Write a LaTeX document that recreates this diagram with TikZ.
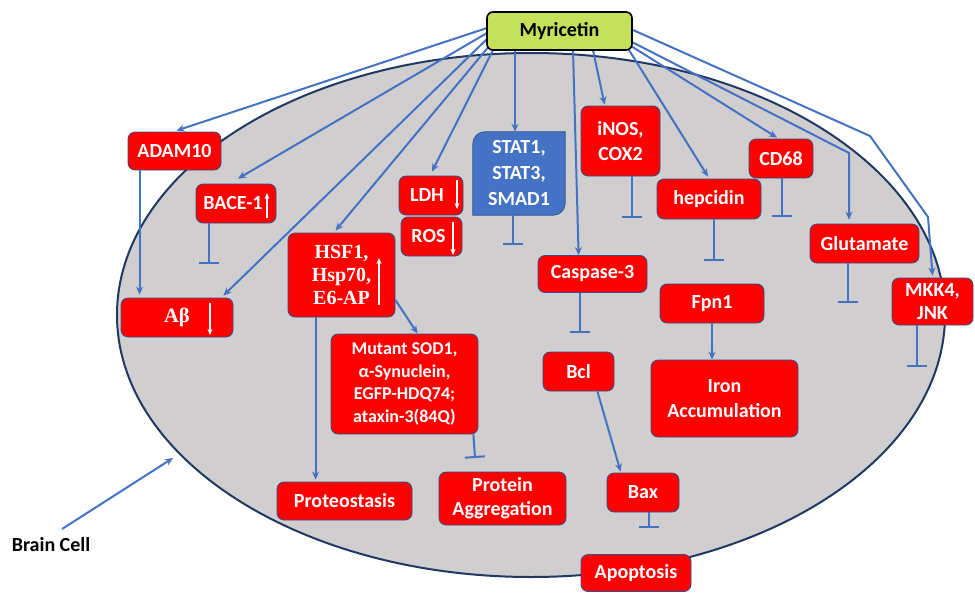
\documentclass[tikz,border=0pt]{standalone}
\usepackage{fontspec}
\setmainfont{Carlito}
\newfontfamily\serifb{Liberation Serif}
\usetikzlibrary{arrows.meta,calc}
\definecolor{lblue}{RGB}{68,114,196}
\definecolor{bord}{RGB}{47,82,143}
\definecolor{navy}{RGB}{32,56,100}
\definecolor{cellgray}{RGB}{208,206,206}
\definecolor{lime}{RGB}{197,224,90}
\definecolor{boxred}{RGB}{255,0,0}
\pgfdeclarelayer{back}
\pgfdeclarelayer{bg}
\pgfsetlayers{back,bg,main}
\begin{document}
\begin{tikzpicture}[x=1pt,y=-1pt,
  rbox/.style={draw=bord, line width=0.8pt, fill=boxred, rounded corners=7pt, text=white,
    font=\fontsize{20}{23}\selectfont\bfseries, align=center, inner sep=0pt},
  conn/.style={draw=lblue, line width=2pt, -{Stealth[length=8pt,width=7pt]}},
  inh/.style={draw=lblue, line width=2pt, -{Bar[width=20pt]}},
  warr/.style={draw=white, line width=1.6pt, -{Stealth[length=6pt,width=5pt]}},
]
\useasboundingbox (0,0) rectangle (975,592);

% brain cell
\begin{pgfonlayer}{back}
\filldraw[fill=cellgray, draw=navy, line width=2pt] (531,315) ellipse [x radius=414pt, y radius=262pt];
\end{pgfonlayer}

% nodes
\node[draw=black, line width=1.6pt, fill=lime, rounded corners=6pt, minimum width=145pt, minimum height=38pt,
  inner sep=0pt, font=\fontsize{20}{23}\selectfont\bfseries] (myr) at (559.5,31) {Myricetin};

\node[rbox, minimum width=93pt, minimum height=38pt] (adam) at (174.5,151) {ADAM10};
\node[rbox, minimum width=80pt, minimum height=39pt] (bace) at (236,203.5) {BACE-1\hspace{6pt}};
\node[rbox, minimum width=112pt, minimum height=39pt, font=\serifb\fontsize{20.5}{23}\selectfont\bfseries] (ab) at (177,317.5) {Aβ};
\node[rbox, minimum width=107pt, minimum height=84pt, font=\serifb\fontsize{20}{23}\selectfont\bfseries] (hsf) at (341.5,275) {HSF1,\\Hsp70,\\E6-AP};
\node[rbox, minimum width=64pt, minimum height=39pt] (ldh) at (431,195.5) {LDH\hspace{8pt}};
\node[rbox, minimum width=61pt, minimum height=39pt] (ros) at (431.5,236.5) {ROS\hspace{6pt}};
\node[text=white, minimum width=92pt, minimum height=83pt, inner sep=0pt, align=center,
  font=\fontsize{20}{26}\selectfont\bfseries] (stat) at (519,173.5) {STAT1,\\STAT3,\\SMAD1};
\node[rbox, minimum width=79pt, minimum height=70pt, font=\fontsize{20}{25}\selectfont\bfseries] (inos) at (620.5,141) {iNOS,\\COX2};
\node[rbox, minimum width=109pt, minimum height=37pt] (casp) at (592.5,274) {Caspase-3};
\node[rbox, minimum width=104pt, minimum height=40pt] (hep) at (709,199) {hepcidin};
\node[rbox, minimum width=64pt, minimum height=39pt] (cd68) at (781,158.5) {CD68};
\node[rbox, minimum width=109pt, minimum height=39pt] (glu) at (864.5,243.5) {Glutamate};
\node[rbox, minimum width=81pt, minimum height=47pt, font=\fontsize{20}{23}\selectfont\bfseries] (mkk) at (932.5,301.5) {MKK4,\\JNK};
\node[rbox, minimum width=104pt, minimum height=39pt] (fpn) at (712,303.5) {Fpn1};
\node[rbox, minimum width=147pt, minimum height=77pt, font=\fontsize{20}{25}\selectfont\bfseries] (iron) at (724.5,398.5) {Iron\\Accumulation};
\node[rbox, minimum width=71pt, minimum height=39pt] (bcl) at (578.5,371.5) {Bcl};
\node[rbox, minimum width=72pt, minimum height=39pt] (bax) at (643,492.5) {Bax};
\node[rbox, minimum width=110pt, minimum height=37pt] (apo) at (636,573) {Apoptosis};
\node[rbox, minimum width=147pt, minimum height=100pt, font=\fontsize{18}{22.5}\selectfont\bfseries] (sod) at (404.5,384) {Mutant SOD1,\\α-Synuclein,\\EGFP-HDQ74;\\ataxin-3(84Q)};
\node[rbox, minimum width=135pt, minimum height=38pt] (prot) at (344.5,501) {Proteostasis};
\node[rbox, minimum width=127pt, minimum height=53pt, font=\fontsize{20}{24}\selectfont\bfseries] (agg) at (502.5,498.5) {Protein\\Aggregation};
\node[text=black, inner sep=0pt, font=\fontsize{20}{23}\selectfont\bfseries] (bc) at (51,545) {Brain Cell};

% STAT box shape
\begin{pgfonlayer}{bg}
\filldraw[fill=lblue, draw=bord, line width=0.8pt]
  ($(stat.north west)+(0,12)$) arc[start angle=180,end angle=90,radius=12pt]
  -- (stat.north east) -- ($(stat.south east)+(0,-12)$)
  arc[start angle=0,end angle=-90,radius=12pt] -- (stat.south west) -- cycle;
\end{pgfonlayer}

% start points on Myricetin
\coordinate (s1) at (487,28);
\coordinate (s2) at (487,33);
\coordinate (s3) at (488,38);
\coordinate (s4) at (490,45);
\coordinate (s5) at (493,50);
\coordinate (s6) at (515,50);
\coordinate (s7) at (573,50);
\coordinate (s8) at (593,50);
\coordinate (s9) at (629,50);
\coordinate (s10) at (631,46);
\coordinate (s11) at (632,42);
\coordinate (s12) at (633,30);
\coordinate (gbend) at (849,153);
\coordinate (mb1) at (870,136);
\coordinate (mb2) at (928,217);

\begin{pgfonlayer}{bg}
\draw[conn] (s1) -- ($(adam.north)+(2,-1)$);
\draw[conn] (s2) -- ($(bace.north)+(2,-5)$);
\draw[conn] (s3) -- ($(ab.north east)+(-10,-2)$);
\draw[conn] (s4) -- ($(hsf.north)+(-6,-2)$);
\draw[conn] (s5) -- ($(ldh.north)+(1,-4)$);
\draw[conn] (s6) -- (s6 |- stat.north);
\draw[conn] (s7) -- ($(casp.north west)+(41,0)$);
\draw[conn] (s8) -- ($(inos.north west)+(24,-1)$);
\draw[conn] (s9) -- ($(hep.north)+(-1,-2)$);
\draw[conn] (s10) -- ($(cd68.north)+(-4,-1)$);
\draw[conn] (s11) -- (gbend) -- ($(gbend |- glu.north)+(0,-4)$);
\draw[conn] (s12) -- (mb1) -- (mb2) -- ($(mkk.north)+(0,-2)$);
\end{pgfonlayer}

% inhibition ends
\coordinate (ibace) at (209,264);
\coordinate (istat) at (513,245);
\coordinate (iinos) at (632,218);
\coordinate (icasp) at (580,333);
\coordinate (ihep) at (714,261);
\coordinate (icd) at (782,217);
\coordinate (iglu) at (848,303);
\coordinate (imkk) at (917,367);
\coordinate (isod) at (475,458);
\coordinate (ibax) at (649,528);
\draw[inh] (ibace |- bace.south) -- (ibace);
\draw[inh] (istat |- stat.south) -- (istat);
\draw[inh] (iinos |- inos.south) -- (iinos);
\draw[inh] (icasp |- casp.south) -- (icasp);
\draw[inh] (ihep |- hep.south) -- (ihep);
\draw[inh] (icd |- cd68.south) -- (icd);
\draw[inh] (iglu |- glu.south) -- (iglu);
\draw[inh] (imkk |- mkk.south) -- (imkk);
\draw[inh] ($(sod.south east)+(-5,0)$) -- (isod);
\draw[inh] (ibax |- bax.south) -- (ibax);

% activation arrows
\draw[conn] ($(adam.south west)+(12,0)$) -- ($(ab.north west)+(19,-3)$);
\draw[conn] ($(hsf.east)+(0,25)$) -- ($(sod.north west)+(87,0)$);
\draw[conn] ($(hsf.south west)+(28,0)$) -- ($(prot.north west)+(39,-2)$);
\draw[conn] (fpn.south) -- (fpn.south |- iron.north);
\draw[conn] ($(bcl.south east)+(-17,0)$) -- ($(bax.north west)+(14,-1)$);
\coordinate (bcs) at (62,529);
\coordinate (bct) at (173,458);
\draw[conn] (bcs) -- (bct);

% white up/down arrows inside boxes
\draw[warr] ($(bace.center)+(31,14.5)$) -- ($(bace.center)+(31,-10.5)$);
\draw[warr] ($(ab.center)+(33,-14.5)$) -- ($(ab.center)+(33,17.5)$);
\draw[warr] ($(ldh.center)+(26,-15.5)$) -- ($(ldh.center)+(26,13.5)$);
\draw[warr] ($(ros.center)+(21.5,-14.5)$) -- ($(ros.center)+(21.5,18.5)$);
\draw[warr] ($(hsf.center)+(37.5,30)$) -- ($(hsf.center)+(37.5,-17)$);
\end{tikzpicture}
\end{document}
